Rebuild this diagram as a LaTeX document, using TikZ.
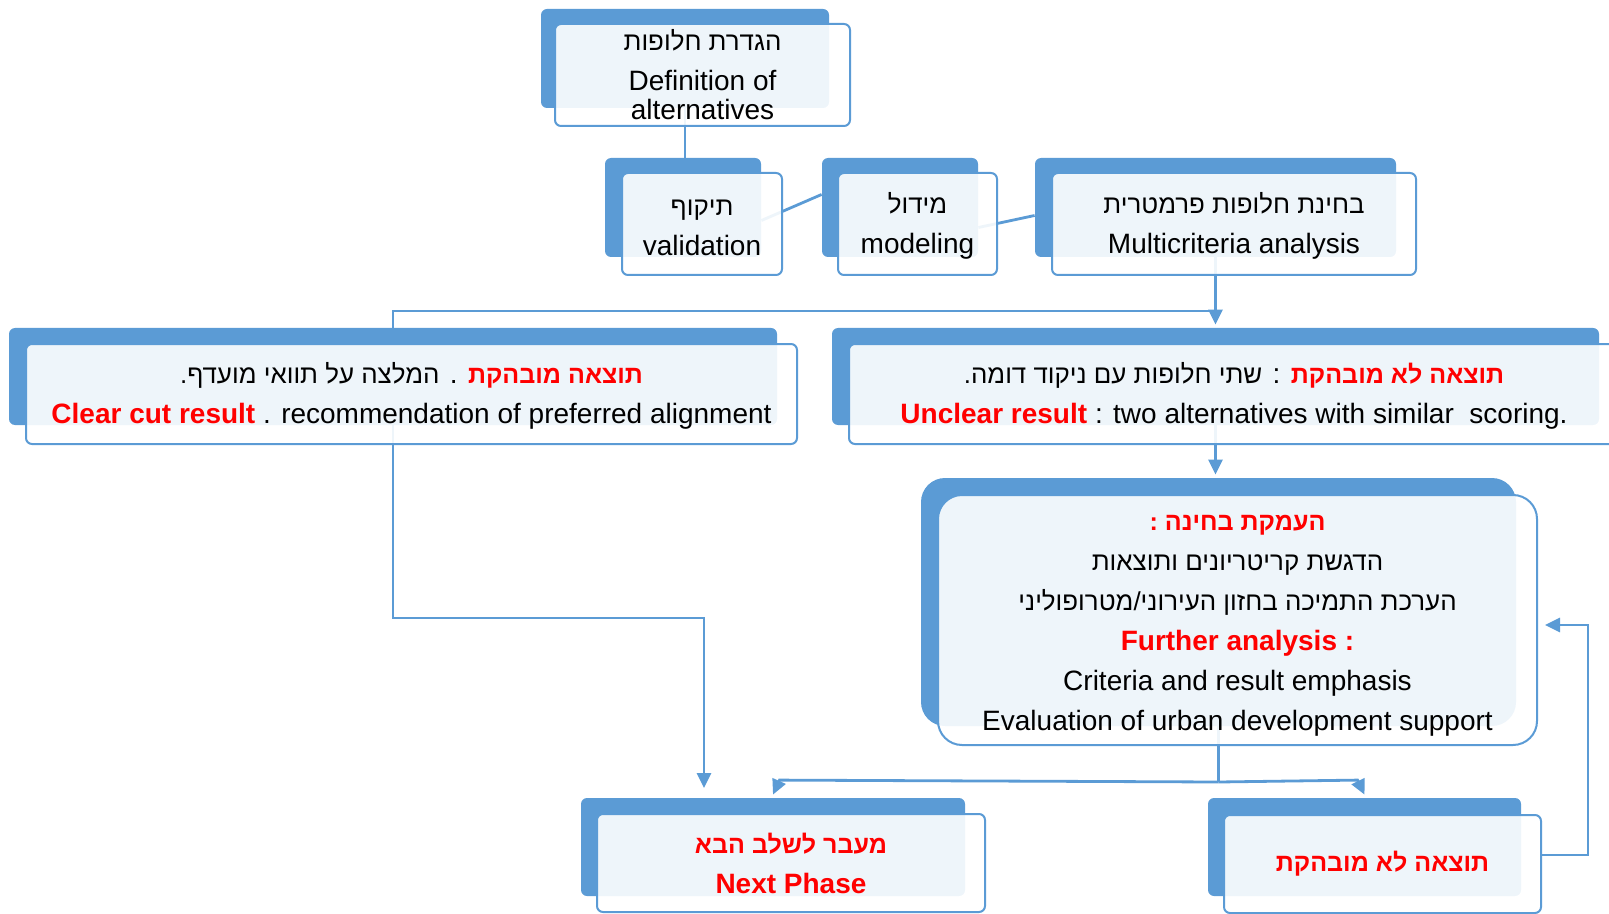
\documentclass[tikz,border=0pt]{standalone}
\usepackage{fontspec}
\setmainfont{Liberation Sans}
\newfontfamily\hebfont[Script=Hebrew,Scale=0.925]{Liberation Sans}
\newfontfamily\hebboldfont[Script=Hebrew,Scale=0.895]{Liberation Sans Bold}
\TeXXeTstate=1
\usetikzlibrary{arrows.meta}

\definecolor{smartblue}{HTML}{5B9BD5}
\definecolor{cardred}{HTML}{FF0000}

\newcommand{\heb}[1]{{\hebfont\beginR #1\endR}}
\newcommand{\redheb}[1]{{\color{cardred}\hebboldfont\beginR #1\endR}}
\newcommand{\redb}[1]{{\color{cardred}\bfseries #1}}

\pgfdeclarelayer{background}
\pgfsetlayers{background,main}

\tikzset{
  backbox/.style={fill=smartblue, rounded corners=3pt, inner sep=0pt},
  frontbox/.style={draw=smartblue, line width=1pt, fill=white, fill opacity=0.9,
    text opacity=1, rounded corners=3pt, inner sep=0pt, align=center,
    font=\fontsize{14}{20}\selectfont},
  link/.style={draw=smartblue, line width=1.4pt},
  arr/.style={link, -{Triangle[length=7.5pt,width=7pt]}}
}

\begin{document}
\begin{tikzpicture}[x=0.5pt,y=-0.5pt]

\useasboundingbox (0,0) rectangle (1609,914);
\clip (0,0) rectangle (1609,914);

%Row 1
\node[backbox, minimum width=144pt, minimum height=49.5pt] (defb) at (685,58.5) {};
\node[frontbox, minimum width=147.5pt, minimum height=51pt] (def) at (702.5,75)
  {\heb{הגדרת חלופות}\\ Definition of\\[-5.5pt] alternatives};
\node[backbox, minimum width=78pt, minimum height=49.5pt] (valb) at (683,207.5) {};
\node[frontbox, minimum width=80pt, minimum height=51pt] (val) at (702,224)
  {\rule{0pt}{12pt}\heb{תיקוף}\\ validation};
\node[backbox, minimum width=78pt, minimum height=49.5pt] (modb) at (900,207.5) {};
\node[frontbox, minimum width=79.5pt, minimum height=51pt] (mod) at (917.5,224)
  {\rule{0pt}{12pt}\heb{מידול}\\ modeling};
\node[backbox, minimum width=180.5pt, minimum height=49.5pt] (multib) at (1215.5,207.5) {};
\node[frontbox, minimum width=182pt, minimum height=51pt] (multi) at (1234,224)
  {\rule{0pt}{12pt}\heb{בחינת חלופות פרמטרית}\\ Multicriteria analysis};

%Row 2
\node[backbox, minimum width=384pt, minimum height=48.5pt] (clearb) at (393,376.5) {};
\node[frontbox, minimum width=385.5pt, minimum height=50pt] (clear) at (411.5,394)
  {\rule{0pt}{12.5pt}\heb{המלצה על תוואי מועדף.} . \redheb{תוצאה מובהקת}\\
   \redb{Clear cut result} . recommendation of preferred alignment};
\node[backbox, minimum width=383.5pt, minimum height=48.5pt] (unclb) at (1215.5,376.5) {};
\node[frontbox, minimum width=388pt, minimum height=50pt] (uncl) at (1237,394)
  {\rule{0pt}{12.5pt}\heb{שתי חלופות עם ניקוד דומה.} : \redheb{תוצאה לא מובהקת}\hspace*{3pt}\\
   \redb{Unclear result} : two alternatives with similar\ \ scoring.\hspace*{3pt}};

%Row 3
\node[backbox, rounded corners=12pt, minimum width=297.5pt, minimum height=124pt] (furb) at (1218.5,602) {};
\node[frontbox, rounded corners=12pt, minimum width=299.5pt, minimum height=125pt] (fur) at (1237.5,620)
  {\rule{0pt}{13.5pt}\redheb{העמקת בחינה :}\\
   \heb{הדגשת קריטריונים ותוצאות}\\
   \heb{הערכת התמיכה בחזון העירוני/מטרופוליני}\\
   \redb{Further analysis :}\\
   Criteria and result emphasis\\
   Evaluation of urban development support};

%Row 4
\node[backbox, minimum width=192pt, minimum height=49pt] (nextb) at (773,847) {};
\node[frontbox, minimum width=194pt, minimum height=49pt] (next) at (791,863)
  {\redheb{מעבר לשלב הבא}\\ \redb{Next Phase}};
\node[backbox, minimum width=156.5pt, minimum height=49pt] (unc2b) at (1364.5,847) {};
\node[frontbox, minimum width=158.5pt, minimum height=49pt] (unc2) at (1382.5,864)
  {\redheb{תוצאה לא מובהקת}};

%connectors
\coordinate (junc) at (1215.5,311);
\coordinate (bend) at (704,618);
\coordinate (nextin) at (704,788);
\coordinate (split) at (1218.5,782);
\coordinate (loopr) at (1588,625);

\begin{pgfonlayer}{background}
\draw[link] (defb.south) -- (defb.south |- valb.north);
\draw[link] ([yshift=-6.5pt]valb.east) -- ([yshift=6.5pt]modb.west);
\draw[link] ([yshift=-10pt]modb.east) -- ([yshift=-4pt]multib.west);
\draw[arr, shorten >=1.5pt] (multib.south) -- (multib.south |- unclb.north);
\draw[link] (junc) -| (clearb.north);
\draw[arr, shorten >=1.5pt] (unclb.south) -- (unclb.south |- furb.north);
\draw[arr] (clearb.south) |- (bend) -- (nextin);
\draw[link] (furb.south) -- (split);
\draw[arr] (split) -- ([xshift=3.25pt,yshift=8.75pt]nextb.north) -- ([yshift=1.5pt]nextb.north);
\draw[arr] (split) -- ([xshift=-3.5pt,yshift=8.75pt]unc2b.north) -- ([yshift=1.5pt]unc2b.north);
\draw[arr, shorten >=3.5pt] ([yshift=4.5pt]unc2.east) -| (loopr) |- ([yshift=-2.5pt]fur.east);
\end{pgfonlayer}

\end{tikzpicture}
\end{document}
